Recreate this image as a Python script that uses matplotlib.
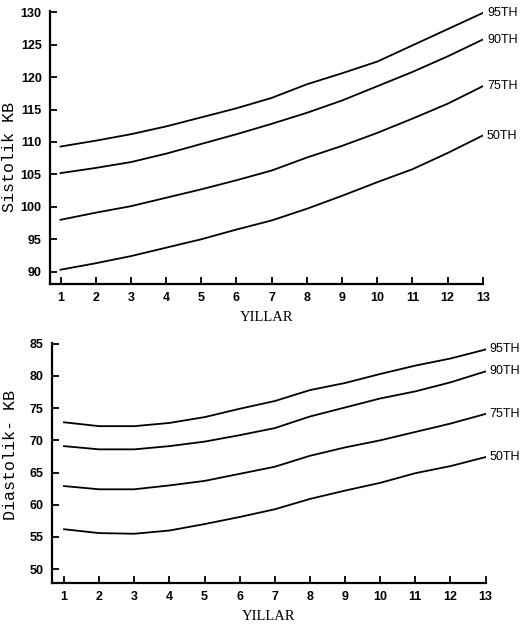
import matplotlib.pyplot as plt

# age in years
years = [1, 2, 3, 4, 5, 6, 7, 8, 9, 10, 11, 12, 13]
percentile_labels = ['95TH', '90TH', '75TH', '50TH']

# systolic blood pressure percentiles
sys_95 = [109.3, 110.2, 111.2, 112.4, 113.8, 115.2, 116.8, 118.9, 120.6, 122.4, 124.9, 127.4, 129.9]
sys_90 = [105.2, 106.0, 106.9, 108.2, 109.7, 111.2, 112.8, 114.5, 116.4, 118.6, 120.8, 123.2, 125.8]
sys_75 = [98.0, 99.1, 100.1, 101.4, 102.7, 104.1, 105.6, 107.6, 109.4, 111.4, 113.6, 115.9, 118.6]
sys_50 = [90.3, 91.3, 92.4, 93.7, 95.0, 96.5, 97.9, 99.7, 101.7, 103.8, 105.8, 108.3, 111.0]

# diastolic blood pressure percentiles
dia_95 = [72.8, 72.2, 72.2, 72.7, 73.6, 74.9, 76.1, 77.8, 78.9, 80.3, 81.6, 82.7, 84.1]
dia_90 = [69.1, 68.6, 68.6, 69.1, 69.8, 70.8, 71.9, 73.7, 75.1, 76.5, 77.6, 79.0, 80.7]
dia_75 = [62.9, 62.4, 62.4, 63.0, 63.7, 64.8, 65.9, 67.6, 68.9, 70.0, 71.3, 72.6, 74.1]
dia_50 = [56.2, 55.6, 55.5, 56.0, 57.0, 58.1, 59.3, 60.9, 62.2, 63.4, 64.9, 66.0, 67.4]

sys_ticks = [90, 95, 100, 105, 110, 115, 120, 125, 130]
dia_ticks = [50, 55, 60, 65, 70, 75, 80, 85]

fig = plt.figure(figsize=(5.24, 6.29), dpi=100)
ax1 = fig.add_axes([0.0954, 0.5485, 0.826, 0.434])
ax2 = fig.add_axes([0.0987, 0.0736, 0.828, 0.381])


def style_axes(ax, yticks, ylim, xlim):
    ax.set_xlim(*xlim)
    ax.set_ylim(*ylim)
    ax.set_xticks(years)
    ax.set_yticks(yticks)
    for s in ['top', 'right']:
        ax.spines[s].set_visible(False)
    for s in ['left', 'bottom']:
        ax.spines[s].set_linewidth(1.6)
    ax.tick_params(direction='in', length=5, width=1.3, pad=6)
    for lab in ax.get_xticklabels() + ax.get_yticklabels():
        lab.set_fontfamily('Liberation Sans')
        lab.set_fontweight('bold')
        lab.set_fontsize(9)
    ax.set_xlabel('YILLAR', family='Liberation Serif', fontsize=10.5, labelpad=5)


def draw(ax, series):
    for vals, lab in zip(series, percentile_labels):
        ax.plot(years, vals, color='black', lw=1.3)
        ax.annotate(lab, (years[-1], vals[-1]), xytext=(3, 0), textcoords='offset points',
                    va='center', ha='left', fontsize=9, family='Liberation Sans',
                    annotation_clip=False)


draw(ax1, [sys_95, sys_90, sys_75, sys_50])
style_axes(ax1, sys_ticks, (88.1, 130.2), (0.70, 13))

draw(ax2, [dia_95, dia_90, dia_75, dia_50])
style_axes(ax2, dia_ticks, (47.9, 85.1), (0.65, 13))

fig.text(0.018, 1 - 157 / 629, 'Sistolik KB', rotation=90, va='center', ha='center',
         family='Liberation Mono', fontsize=12)
fig.text(0.02, 1 - 455 / 629, 'Diastolik- KB', rotation=90, va='center', ha='center',
         family='Liberation Mono', fontsize=12)

fig.savefig('out.png', dpi=100)
